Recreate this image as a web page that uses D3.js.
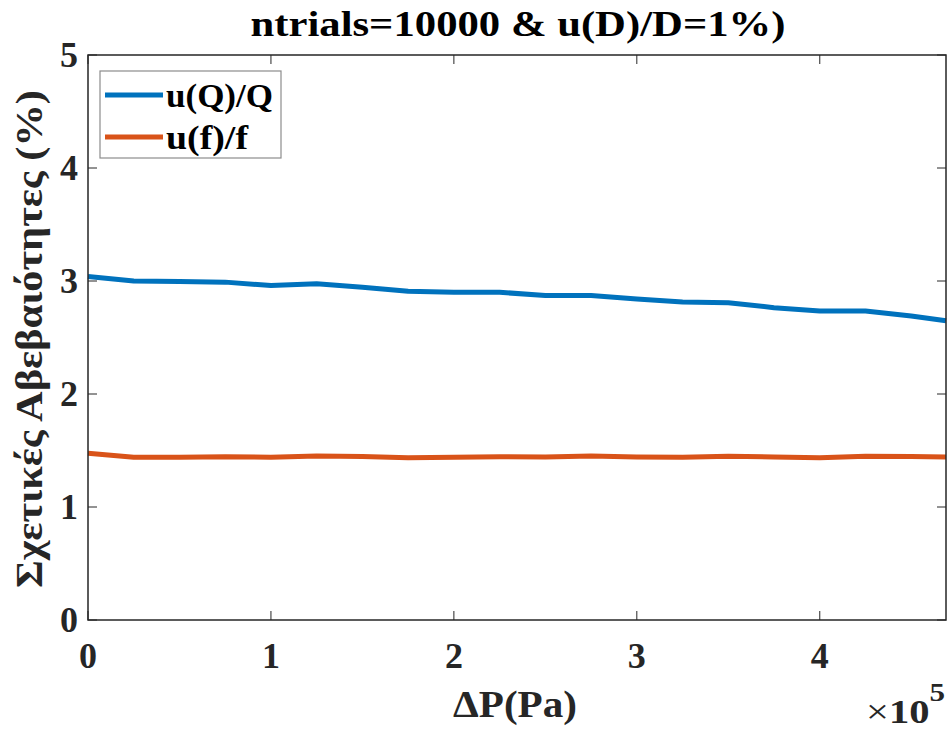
<!DOCTYPE html>
<html>
<head>
<meta charset="utf-8">
<script src="https://cdn.jsdelivr.net/npm/d3@7"></script>
</head>
<body style="margin:0;padding:0;background:#fff">
<svg id="s" width="949" height="729" style="display:block"></svg>
<script>
// Pressure drop values (Pa)
const dP = [0, 25000, 50000, 75000, 100000, 125000, 150000, 175000, 200000, 225000,
            250000, 275000, 300000, 325000, 350000, 375000, 400000, 425000, 450000, 469000];
// Relative uncertainty of flow rate (%)
const uQ = [3.04, 3.00, 2.995, 2.99, 2.96, 2.975, 2.945, 2.91, 2.90, 2.90,
            2.872, 2.872, 2.84, 2.814, 2.808, 2.764, 2.735, 2.735, 2.69, 2.648];
// Relative uncertainty of friction factor (%)
const uf = [1.475, 1.44, 1.44, 1.445, 1.44, 1.452, 1.446, 1.436, 1.44, 1.445,
            1.442, 1.452, 1.442, 1.44, 1.45, 1.442, 1.436, 1.45, 1.447, 1.443];
const xTicks = [0, 100000, 200000, 300000, 400000];
const yTicks = [0, 1, 2, 3, 4, 5];
const seriesNames = ["u(Q)/Q", "u(f)/f"];
const colors = ["#0072BD", "#D95319"];

const svg = d3.select("#s");
const L = 88, R = 946, T = 55, B = 620;
const x = d3.scaleLinear().domain([0, d3.max(dP)]).range([L, R]);
const y = d3.scaleLinear().domain([0, 5]).range([B, T]);
const axisColor = "#262626";
const tickLen = 9;

function label(sel) {
  return sel.append("text").attr("font-family", "Times New Roman").attr("font-weight", "bold");
}

// Title
label(svg).attr("x", 518).attr("y", 36).attr("text-anchor", "middle")
  .attr("font-size", 35).attr("textLength", 535).attr("lengthAdjust", "spacingAndGlyphs")
  .text("ntrials=10000 & u(D)/D=1%)");

// Data lines
const line = d3.line().x((d, i) => x(dP[i])).y(d => y(d));
[uQ, uf].forEach((s, k) => {
  svg.append("path").datum(s).attr("d", line)
    .attr("fill", "none").attr("stroke", colors[k]).attr("stroke-width", 5)
    .attr("stroke-linejoin", "round");
});

// Box and ticks
const g = svg.append("g");
g.append("rect").attr("x", L).attr("y", T).attr("width", R - L).attr("height", B - T)
  .attr("fill", "none").attr("stroke", axisColor).attr("stroke-width", 1.5);

xTicks.forEach(t => {
  const px = x(t);
  g.append("line").attr("x1", px).attr("x2", px).attr("y1", B).attr("y2", B - tickLen)
    .attr("stroke", axisColor).attr("stroke-width", 1);
  g.append("line").attr("x1", px).attr("x2", px).attr("y1", T).attr("y2", T + tickLen)
    .attr("stroke", axisColor).attr("stroke-width", 1);
  label(svg).attr("x", px).attr("y", 668).attr("text-anchor", "middle")
    .attr("font-size", 36).attr("fill", axisColor).text(t / 100000);
});
yTicks.forEach(t => {
  const py = y(t);
  g.append("line").attr("x1", L).attr("x2", L + tickLen).attr("y1", py).attr("y2", py)
    .attr("stroke", axisColor).attr("stroke-width", 1);
  g.append("line").attr("x1", R).attr("x2", R - tickLen).attr("y1", py).attr("y2", py)
    .attr("stroke", axisColor).attr("stroke-width", 1);
  label(svg).attr("x", 78).attr("y", py + 12).attr("text-anchor", "end")
    .attr("font-size", 36).attr("fill", axisColor).text(t);
});

// Axis labels
label(svg).attr("x", 515).attr("y", 717).attr("text-anchor", "middle").attr("fill", axisColor)
  .attr("font-size", 37).attr("textLength", 124).attr("lengthAdjust", "spacingAndGlyphs")
  .text("ΔP(Pa)");
label(svg).attr("transform", "translate(42,339) rotate(-90)").attr("text-anchor", "middle")
  .attr("fill", axisColor)
  .attr("font-size", 37).attr("textLength", 498).attr("lengthAdjust", "spacingAndGlyphs")
  .text("Σχετικές Αβεβαιότητες (%)");

// Exponent label
const ex = label(svg).attr("x", 866).attr("y", 723).attr("font-size", 34).attr("fill", axisColor)
  .attr("textLength", 79).attr("lengthAdjust", "spacingAndGlyphs");
ex.append("tspan").attr("font-weight", "normal").text("×");
ex.append("tspan").text("10");
ex.append("tspan").attr("dy", -22).attr("font-size", 26).text("5");

// Legend
const lg = svg.append("g");
lg.append("rect").attr("x", 100).attr("y", 71).attr("width", 181).attr("height", 87)
  .attr("fill", "#fff").attr("stroke", "#8c8c8c").attr("stroke-width", 1.2);
seriesNames.forEach((n, k) => {
  const ly = 95 + k * 42;
  lg.append("line").attr("x1", 105).attr("x2", 163).attr("y1", ly).attr("y2", ly)
    .attr("stroke", colors[k]).attr("stroke-width", 5);
  label(lg).attr("x", 166).attr("y", ly + 12).attr("font-size", 33)
    .attr("textLength", k === 0 ? 107 : 82).attr("lengthAdjust", "spacingAndGlyphs").text(n);
});
</script>
</body>
</html>
